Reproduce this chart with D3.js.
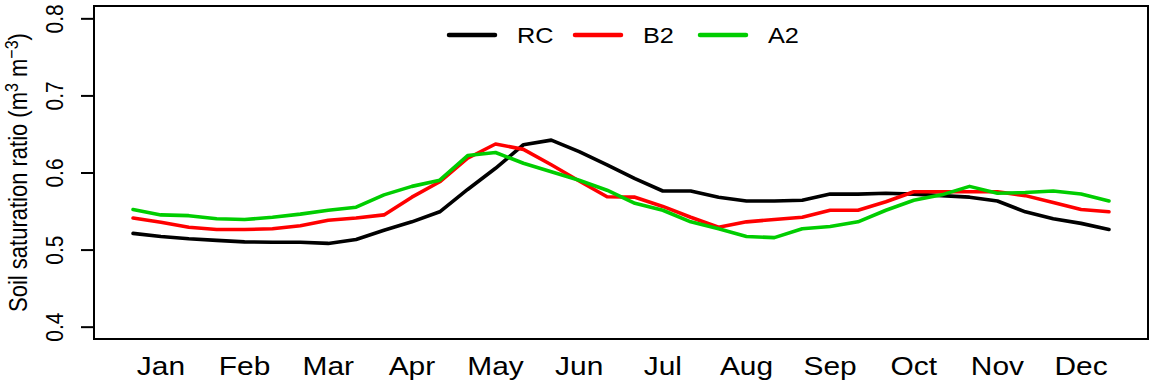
<!DOCTYPE html>
<html>
<head>
<meta charset="utf-8">
<script src="https://cdn.jsdelivr.net/npm/d3@7"></script>
<style>
  body { margin: 0; background: #fff; }
  text { font-family: "Liberation Sans", Arial, sans-serif; }
</style>
</head>
<body>
<div id="chart"></div>
<script>
// three dekads (10-day periods) per month, 36 steps in the year
const months = ['Jan', 'Feb', 'Mar', 'Apr', 'May', 'Jun', 'Jul', 'Aug', 'Sep', 'Oct', 'Nov', 'Dec'];
const yTicks = [0.4, 0.5, 0.6, 0.7, 0.8];

const rc = [0.521, 0.517, 0.514, 0.512, 0.510, 0.5095, 0.5095, 0.508, 0.513, 0.525, 0.536, 0.549,
  0.578, 0.6055, 0.636, 0.642, 0.627, 0.610, 0.592, 0.576, 0.576, 0.568, 0.563, 0.563,
  0.564, 0.572, 0.572, 0.573, 0.572, 0.570, 0.568, 0.563, 0.549, 0.540, 0.534, 0.526];
const b2 = [0.541, 0.5355, 0.529, 0.526, 0.526, 0.527, 0.531, 0.538, 0.541, 0.545, 0.568, 0.588,
  0.6185, 0.637, 0.630, 0.610, 0.589, 0.5685, 0.568, 0.556, 0.542, 0.529, 0.536, 0.539,
  0.542, 0.551, 0.551, 0.562, 0.575, 0.575, 0.575, 0.575, 0.570, 0.561, 0.552, 0.549];
const a2 = [0.552, 0.545, 0.544, 0.540, 0.539, 0.542, 0.546, 0.551, 0.555, 0.571, 0.582, 0.590,
  0.622, 0.626, 0.612, 0.601, 0.590, 0.577, 0.560, 0.551, 0.536, 0.527, 0.517, 0.5155,
  0.527, 0.530, 0.536, 0.551, 0.564, 0.571, 0.582, 0.573, 0.574, 0.576, 0.572, 0.563];

const seriesNames = ['RC', 'B2', 'A2'];
const seriesColors = ['#000000', '#ff0000', '#00cd00'];
const seriesData = [rc, b2, a2];

const W = 1152, H = 385;
const sx = 1.15; // the picture is a bit stretched sideways, so is the text

const svg = d3.select('#chart').append('svg')
  .attr('width', W)
  .attr('height', H);

// R style: 4% padding round the data range
const x = d3.scaleLinear().domain([-0.4, 37.4]).range([94, 1148]);
const y = d3.scaleLinear().domain([0.384, 0.816]).range([339, 6]);

const line = d3.line()
  .x((d, i) => x(i + 1))
  .y(d => y(d));

// series
seriesData.forEach((s, k) => {
  svg.append('path')
    .datum(s)
    .attr('fill', 'none')
    .attr('stroke', seriesColors[k])
    .attr('stroke-width', 3.6)
    .attr('stroke-linejoin', 'round')
    .attr('stroke-linecap', 'round')
    .attr('d', line);
});

// y axis
const yAxis = svg.append('g')
  .attr('transform', 'translate(94,0)')
  .call(d3.axisLeft(y).tickValues(yTicks).tickSize(13).tickFormat(d3.format('.1f')));
yAxis.select('.domain').remove();
yAxis.selectAll('line').attr('stroke', '#000').attr('stroke-width', 2);
yAxis.selectAll('text')
  .attr('x', null).attr('dy', null)
  .attr('text-anchor', 'middle')
  .attr('fill', '#000')
  .style('font-size', '21px')
  .attr('transform', `translate(-31,0) rotate(-90) scale(1,${sx})`);

// month labels, on the middle dekad of each month
svg.append('g').selectAll('text')
  .data(months)
  .join('text')
  .attr('text-anchor', 'middle')
  .attr('transform', (d, i) => `translate(${x(i * 3 + 2)},375) scale(${sx},1)`)
  .style('font-size', '26px')
  .text(d => d);

// y title
const yt = svg.append('text')
  .attr('text-anchor', 'middle')
  .attr('transform', `translate(27,${(6 + 339) / 2}) rotate(-90) scale(1,${sx})`)
  .style('font-size', '22px');
yt.append('tspan').text('Soil saturation ratio (m');
yt.append('tspan').attr('dy', -8).style('font-size', '16px').text('3');
yt.append('tspan').attr('dy', 8).text(' m');
yt.append('tspan').attr('dy', -8).style('font-size', '16px').text('\u22123');
yt.append('tspan').attr('dy', 8).text(')');

// plot box
svg.append('rect')
  .attr('x', 94).attr('y', 6)
  .attr('width', 1148 - 94).attr('height', 339 - 6)
  .attr('fill', 'none')
  .attr('stroke', '#000')
  .attr('stroke-width', 2);

// legend
const legX = [449, 575, 700];
const legend = svg.append('g');
seriesNames.forEach((n, k) => {
  legend.append('line')
    .attr('x1', legX[k]).attr('x2', legX[k] + 46)
    .attr('y1', 35).attr('y2', 35)
    .attr('stroke', seriesColors[k])
    .attr('stroke-width', 4.5)
    .attr('stroke-linecap', 'round');
  legend.append('text')
    .attr('transform', `translate(${legX[k] + 68},43) scale(${sx},1)`)
    .style('font-size', '22px')
    .text(n);
});
</script>
</body>
</html>
